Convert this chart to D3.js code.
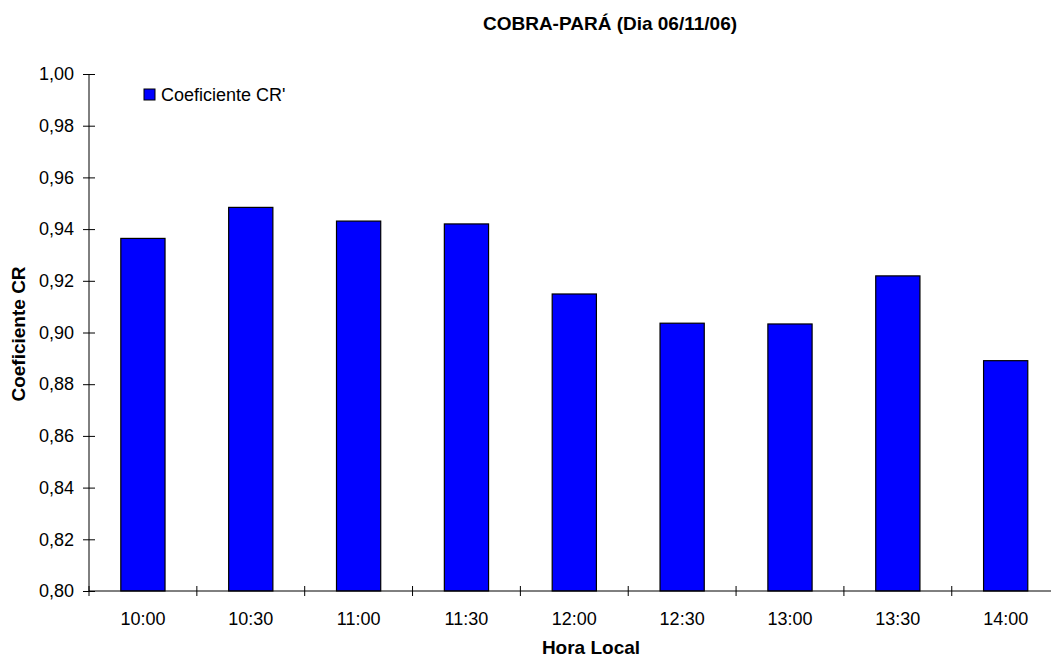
<!DOCTYPE html>
<html>
<head>
<meta charset="utf-8">
<script src="https://cdn.jsdelivr.net/npm/d3@7"></script>
<style>
  body { margin: 0; background: #fff; }
  svg { display: block; font-family: "Liberation Sans", Arial, sans-serif; }
</style>
</head>
<body>
<svg id="chart" width="1051" height="657"></svg>
<script>
const categories = ["10:00", "10:30", "11:00", "11:30", "12:00", "12:30", "13:00", "13:30", "14:00"];
const values = [0.9364, 0.9484, 0.9431, 0.9420, 0.9149, 0.9036, 0.9033, 0.9219, 0.8891];
const yTicks = [0.80, 0.82, 0.84, 0.86, 0.88, 0.90, 0.92, 0.94, 0.96, 0.98, 1.00];
const seriesName = "Coeficiente CR'";
const title = "COBRA-PARÁ (Dia 06/11/06)";
const xTitle = "Hora Local";
const yTitle = "Coeficiente CR";

(function () {
const svg = d3.select("#chart");
const mL = 89, mR = 1059.6, mT = 74, mB = 591;
const fsReg = 18, fsBold = 19;

const x = d3.scaleBand().domain(categories).range([mL, mR]).paddingInner(0.59).paddingOuter(0.295);
const y = d3.scaleLinear().domain([0.80, 1.00]).range([mB, mT]);
const fmt = d => d.toFixed(2).replace(".", ",");

// bars
svg.append("g").selectAll("rect").data(values).join("rect")
  .attr("x", (d, i) => x(categories[i]))
  .attr("y", d => y(d))
  .attr("width", x.bandwidth())
  .attr("height", d => mB - y(d))
  .attr("fill", "#0000ff")
  .attr("stroke", "#000")
  .attr("stroke-width", 1.2);

// y axis
const yAxis = svg.append("g").attr("transform", `translate(${mL},0)`)
  .call(d3.axisLeft(y).tickValues(yTicks).tickFormat(fmt).tickSize(6).tickPadding(9));
yAxis.selectAll(".tick line").attr("x1", 6).attr("x2", -6);
yAxis.select(".domain").attr("d", `M0,${mT}V${mB}`);
yAxis.selectAll("line, path").attr("stroke", "#000").attr("stroke-width", 1);
yAxis.selectAll("text").attr("font-size", fsReg).attr("fill", "#000").attr("font-family", "Liberation Sans, Arial, sans-serif");

// x axis
const bandStep = x.step();
const boundaries = d3.range(categories.length + 1).map(i => mL + i * bandStep);
const xg = svg.append("g");
xg.append("line").attr("x1", mL).attr("x2", mR).attr("y1", mB).attr("y2", mB);
xg.selectAll("line.tk").data(boundaries).join("line").attr("class", "tk")
  .attr("x1", d => d).attr("x2", d => d).attr("y1", mB - 5).attr("y2", mB + 5);
xg.selectAll("line").attr("stroke", "#000").attr("stroke-width", 1);
xg.selectAll("text").data(categories).join("text")
  .attr("x", d => x(d) + x.bandwidth() / 2)
  .attr("y", 625)
  .attr("text-anchor", "middle")
  .attr("font-size", fsReg)
  .attr("fill", "#000")
  .text(d => d);

// titles
svg.append("text").attr("x", 610).attr("y", 30).attr("text-anchor", "middle")
  .attr("font-size", fsBold).attr("font-weight", "bold").text(title);
svg.append("text").attr("x", 591).attr("y", 654).attr("text-anchor", "middle")
  .attr("font-size", fsBold).attr("font-weight", "bold").text(xTitle);
svg.append("text").attr("transform", `translate(25,334) rotate(-90)`)
  .attr("text-anchor", "middle").attr("font-size", fsBold).attr("font-weight", "bold").text(yTitle);

// legend
const lg = svg.append("g").attr("transform", "translate(144,89)");
lg.append("rect").attr("width", 11).attr("height", 11).attr("fill", "#0000ff").attr("stroke", "#000").attr("stroke-width", 1);
lg.append("text").attr("x", 17).attr("y", 11.5).attr("font-size", fsReg).text(seriesName);
})();
</script>
</body>
</html>
